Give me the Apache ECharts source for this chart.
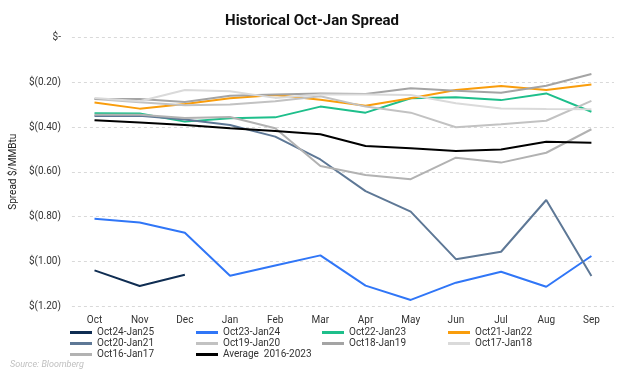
<!DOCTYPE html>
<html>
<head>
<meta charset="utf-8">
<script src="https://cdn.jsdelivr.net/npm/echarts@6/dist/echarts.min.js"></script>
<style>
	html, body { margin: 0; padding: 0; background: #fff; }
	#chart { width: 624px; height: 375px; }
</style>
</head>
<body>
<div id="chart"></div>
<script>
	// months on the x axis
	var months = ['Oct', 'Nov', 'Dec', 'Jan', 'Feb', 'Mar', 'Apr', 'May', 'Jun', 'Jul', 'Aug', 'Sep']
	var yTicks = [0, -0.2, -0.4, -0.6, -0.8, -1.0, -1.2]

	// spread values ($/MMBtu)
	var oct24Jan25 = [-1.04, -1.11, -1.06, null, null, null, null, null, null, null, null, null]
	var oct23Jan24 = [-0.81, -0.826, -0.872, -1.064, -1.018, -0.973, -1.108, -1.172, -1.095, -1.046, -1.113, -0.976]
	var oct22Jan23 = [-0.339, -0.34, -0.376, -0.361, -0.357, -0.309, -0.336, -0.272, -0.267, -0.28, -0.25, -0.332]
	var oct21Jan22 = [-0.291, -0.318, -0.297, -0.272, -0.257, -0.278, -0.305, -0.272, -0.235, -0.217, -0.235, -0.21]
	var oct20Jan21 = [-0.351, -0.35, -0.366, -0.391, -0.443, -0.545, -0.686, -0.778, -0.99, -0.957, -0.726, -1.065]
	var oct19Jan20 = [-0.275, -0.29, -0.303, -0.3, -0.285, -0.263, -0.309, -0.336, -0.401, -0.388, -0.372, -0.283]
	var oct18Jan19 = [-0.275, -0.275, -0.288, -0.26, -0.255, -0.25, -0.253, -0.227, -0.238, -0.247, -0.216, -0.163]
	var oct17Jan18 = [-0.27, -0.285, -0.235, -0.24, -0.27, -0.255, -0.255, -0.257, -0.294, -0.317, -0.32, -0.321]
	var oct16Jan17 = [-0.345, -0.345, -0.36, -0.355, -0.406, -0.574, -0.614, -0.633, -0.537, -0.559, -0.515, -0.41]
	var average = [-0.37, -0.38, -0.391, -0.406, -0.418, -0.432, -0.485, -0.495, -0.507, -0.5, -0.466, -0.47]

	var seriesList = [
		{ name: 'Oct24-Jan25', data: oct24Jan25, color: '#0f2d52' },
		{ name: 'Oct23-Jan24', data: oct23Jan24, color: '#3076f7' },
		{ name: 'Oct22-Jan23', data: oct22Jan23, color: '#1ebf8b' },
		{ name: 'Oct21-Jan22', data: oct21Jan22, color: '#f99d0c' },
		{ name: 'Oct20-Jan21', data: oct20Jan21, color: '#5e7896' },
		{ name: 'Oct19-Jan20', data: oct19Jan20, color: '#c2c2c2' },
		{ name: 'Oct18-Jan19', data: oct18Jan19, color: '#a4a4a4' },
		{ name: 'Oct17-Jan18', data: oct17Jan18, color: '#dadada' },
		{ name: 'Oct16-Jan17', data: oct16Jan17, color: '#b2b2b2' },
		{ name: 'Average  2016-2023', data: average, color: '#000000' }
	]

	var fontName = 'Roboto'

	var chart = echarts.init(document.getElementById('chart'))
	var option = {
		animation: false,
		backgroundColor: '#ffffff',
		textStyle: { fontFamily: fontName },
		title: {
			text: 'Historical Oct-Jan Spread',
			left: 'center',
			top: 9,
			textStyle: {
				fontFamily: fontName,
				fontSize: 15,
				fontWeight: 'bold',
				color: '#111111'
			}
		},
		legend: {
			left: 70,
			top: 327,
			width: 520,
			itemGap: 0,
			itemWidth: 22,
			itemHeight: 3,
			icon: 'rect',
			padding: 0,
			data: seriesList.map(function (s) { return s.name }),
			textStyle: {
				fontFamily: fontName,
				fontSize: 10,
				color: '#333333',
				width: 99,
				lineHeight: 11,
				overflow: 'truncate'
			}
		},
		grid: {
			left: 65,
			right: 10,
			top: 37.4,
			bottom: 68.8,
			containLabel: false
		},
		xAxis: {
			type: 'category',
			data: months,
			boundaryGap: true,
			axisLine: { show: false },
			axisTick: { show: false },
			axisLabel: {
				color: '#333333',
				fontSize: 10,
				margin: 9
			}
		},
		yAxis: {
			type: 'value',
			min: -1.2,
			max: 0,
			interval: 0.2,
			name: 'Spread $/MMBtu',
			nameLocation: 'middle',
			nameRotate: 90,
			nameGap: 50,
			nameTextStyle: {
				fontSize: 10,
				color: '#222222'
			},
			axisLine: { show: false },
			axisTick: { show: false },
			axisLabel: {
				color: '#333333',
				fontSize: 10,
				margin: 11,
				formatter: function (v) {
					if (Math.abs(v) < 1e-9) return '$-'
					return '$(' + Math.abs(v).toFixed(2) + ')'
				}
			},
			splitLine: {
				lineStyle: {
					color: '#d9d9d9',
					type: [3, 3],
					width: 1
				}
			}
		},
		graphic: [{
			type: 'text',
			left: 10,
			top: 360,
			style: {
				text: 'Source: Bloomberg',
				fontFamily: fontName,
				fontSize: 9,
				fontStyle: 'italic',
				fill: '#bfbfbf'
			}
		}],
		series: seriesList.map(function (s) {
			return {
				name: s.name,
				type: 'line',
				data: s.data,
				showSymbol: false,
				symbol: 'none',
				connectNulls: false,
				color: s.color,
				lineStyle: { width: 2, color: s.color }
			}
		})
	}
	chart.setOption(option)
</script>
</body>
</html>
